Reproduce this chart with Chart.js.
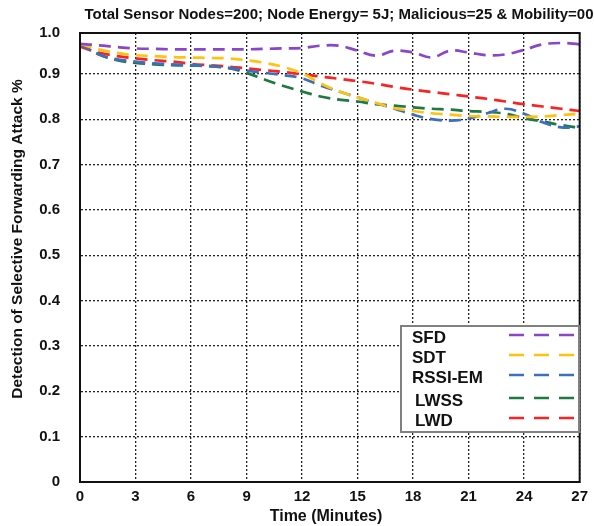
<!DOCTYPE html>
<html>
<head>
<meta charset="utf-8">
<script src="https://cdn.jsdelivr.net/npm/chart.js@4.4.1/dist/chart.umd.min.js"></script>
<style>
    body { margin: 0; background: #fff; }
    #wrap { width: 594px; height: 526px; }
</style>
</head>
<body>
<div id="wrap"><canvas id="line-chart" width="594" height="526"></canvas></div>
<script>
// time in minutes, one reading per minute
const times = [0, 1, 2, 3, 4, 5, 6, 7, 8, 9, 10, 11, 12, 13, 14, 15, 16, 17, 18, 19, 20, 21, 22, 23, 24, 25, 26, 27];
const xTicks = [0, 3, 6, 9, 12, 15, 18, 21, 24, 27];
const yTicks = [0, 0.1, 0.2, 0.3, 0.4, 0.5, 0.6, 0.7, 0.8, 0.9, 0.99];

const sfd = [0.966, 0.963, 0.959, 0.956, 0.955, 0.954, 0.954, 0.954, 0.954, 0.954, 0.955, 0.956, 0.957, 0.962, 0.962, 0.951,
    0.940, 0.951, 0.947, 0.936, 0.951, 0.947, 0.941, 0.943, 0.953, 0.965, 0.968, 0.965];
const sdt = [0.966, 0.954, 0.946, 0.941, 0.939, 0.937, 0.936, 0.935, 0.934, 0.930, 0.924, 0.915, 0.901, 0.879, 0.861, 0.848,
    0.836, 0.824, 0.818, 0.813, 0.810, 0.807, 0.806, 0.805, 0.805, 0.806, 0.809, 0.812];
const rssiEm = [0.966, 0.943, 0.932, 0.927, 0.923, 0.921, 0.919, 0.917, 0.913, 0.907, 0.902, 0.897, 0.890, 0.874, 0.861, 0.848,
    0.835, 0.823, 0.810, 0.800, 0.797, 0.801, 0.813, 0.823, 0.812, 0.793, 0.782, 0.784];
const lwss = [0.966, 0.943, 0.930, 0.924, 0.921, 0.919, 0.918, 0.917, 0.913, 0.902, 0.887, 0.873, 0.861, 0.850, 0.843, 0.839,
    0.833, 0.830, 0.826, 0.823, 0.821, 0.818, 0.816, 0.812, 0.802, 0.795, 0.787, 0.781];
const lwd = [0.960, 0.947, 0.939, 0.934, 0.930, 0.927, 0.922, 0.919, 0.916, 0.912, 0.908, 0.904, 0.899, 0.894, 0.889, 0.884,
    0.878, 0.871, 0.865, 0.860, 0.855, 0.850, 0.845, 0.839, 0.833, 0.828, 0.823, 0.818];

const seriesNames = ['SFD', 'SDT', 'RSSI-EM', 'LWSS', 'LWD'];
const seriesValues = [sfd, sdt, rssiEm, lwss, lwd];
const seriesColors = ['#8a45c8', '#ffc20e', '#3c6fc2', '#1f7a42', '#fa2222'];

const titleText = 'Total Sensor Nodes=200; Node Energy= 5J; Malicious=25 & Mobility=00';
const xTitle = 'Time (Minutes)';
const yTitle = 'Detection of Selective Forwarding Attack %';

const FONT = '"Liberation Sans", Arial, sans-serif';

// title, axis titles, frame and the legend box
const decor = {
    id: 'decor',
    afterDraw(chart) {
        const { ctx, chartArea: a } = chart;
        ctx.save();
        ctx.strokeStyle = '#111';
        ctx.lineWidth = 2;
        ctx.strokeRect(a.left, a.top, a.right - a.left, a.bottom - a.top);

        ctx.fillStyle = '#111';
        ctx.textAlign = 'center';
        ctx.textBaseline = 'middle';
        ctx.font = 'bold 15px ' + FONT;
        ctx.fillText(titleText, 339, 15);
        ctx.font = 'bold 16px ' + FONT;
        ctx.fillText(xTitle, 326, 517);
        ctx.save();
        ctx.translate(18, 239);
        ctx.rotate(-Math.PI / 2);
        ctx.font = 'bold 15.5px ' + FONT;
        ctx.fillText(yTitle, 0, 0);
        ctx.restore();

        // legend
        ctx.fillStyle = '#fff';
        ctx.fillRect(401, 326, 178, 106);
        ctx.strokeStyle = '#808080';
        ctx.lineWidth = 2;
        ctx.strokeRect(401, 326, 178, 106);
        const rows = [337, 357, 377, 400, 420];
        ctx.font = 'bold 17px ' + FONT;
        ctx.textAlign = 'left';
        chart.data.datasets.forEach((ds, i) => {
            ctx.fillStyle = '#111';
            ctx.fillText(ds.label, i < 3 ? 412 : 415, rows[i] + 1);
            ctx.strokeStyle = ds.borderColor;
            ctx.lineWidth = 2.5;
            ctx.setLineDash([15, 10]);
            ctx.beginPath();
            ctx.moveTo(509, rows[i] - 2);
            ctx.lineTo(574, rows[i] - 2);
            ctx.stroke();
            ctx.setLineDash([]);
        });
        ctx.restore();
    }
};

const ctx = document.getElementById('line-chart');
new Chart(ctx, {
    type: 'line',
    data: {
        datasets: seriesNames.map((name, i) => ({
            label: name,
            data: times.map((t, j) => ({ x: t, y: seriesValues[i][j] })),
            borderColor: seriesColors[i],
            borderWidth: 2.7,
            borderDash: [12, 7],
            pointRadius: 0,
            tension: 0.4,
            fill: false
        }))
    },
    options: {
        responsive: false,
        animation: false,
        layout: { padding: { left: 0, right: 13, top: 33, bottom: 0 } },
        plugins: {
            legend: { display: false },
            title: { display: false },
            tooltip: { enabled: false }
        },
        scales: {
            x: {
                type: 'linear',
                min: 0,
                max: 27,
                afterBuildTicks: axis => { axis.ticks = xTicks.map(v => ({ value: v })); },
                afterFit: axis => { axis.height = 44; },
                grid: { color: '#222', lineWidth: 1.3, drawTicks: false },
                border: { display: true, color: '#111', width: 2, dash: [2, 2] },
                ticks: {
                    padding: 6,
                    maxRotation: 0,
                    color: '#111',
                    font: { family: FONT, size: 15, weight: 'bold' }
                }
            },
            y: {
                min: 0,
                max: 0.99,
                afterBuildTicks: axis => { axis.ticks = yTicks.map(v => ({ value: v })); },
                afterFit: axis => { axis.width = 80; },
                grid: { color: '#222', lineWidth: 1.3, drawTicks: false },
                border: { display: true, color: '#111', width: 2, dash: [2, 2] },
                ticks: {
                    padding: 20,
                    color: '#111',
                    font: { family: FONT, size: 15, weight: 'bold' },
                    callback: v => v >= 0.985 ? '1.0' : (v === 0 ? '0' : v.toFixed(1))
                }
            }
        }
    },
    plugins: [decor]
});
</script>
</body>
</html>
